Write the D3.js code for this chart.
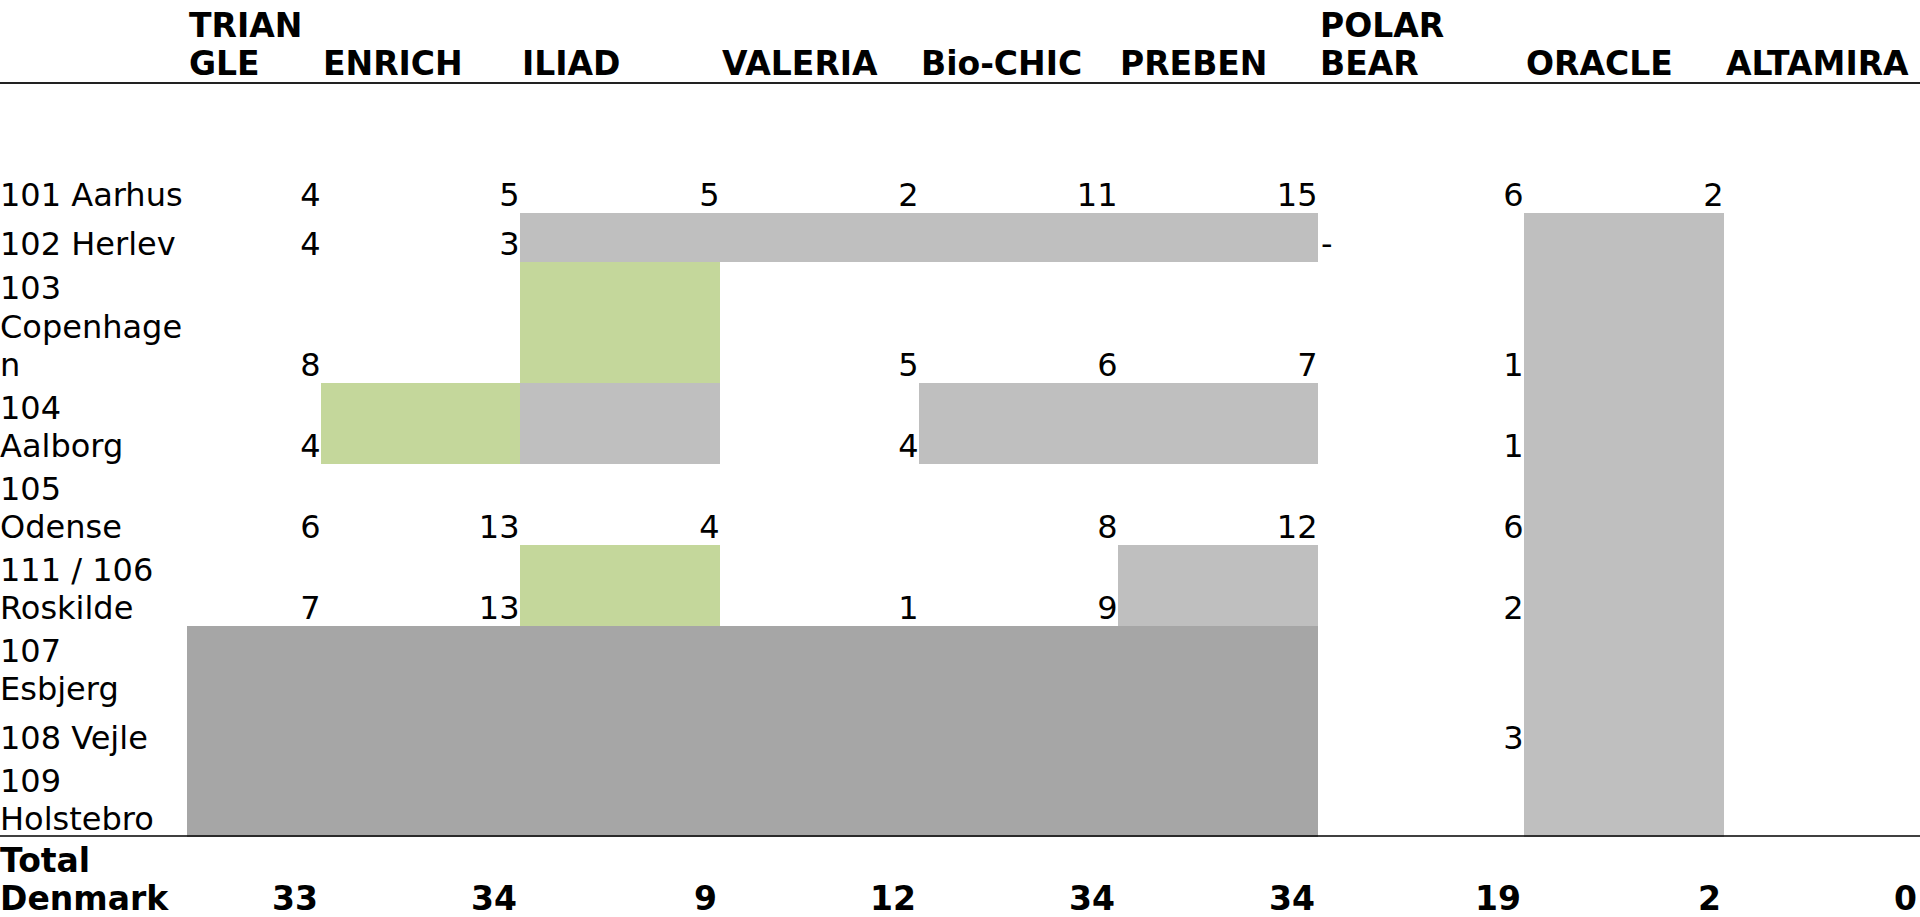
<!DOCTYPE html>
<html>
<head>
  <meta charset="utf-8">
  <script src="https://cdn.jsdelivr.net/npm/d3@7"></script>
  <style>
    body { margin: 0; background: #fff; }
    text { font-family: "DejaVu Sans", Verdana, sans-serif; font-size: 32px; fill: #000; }
    .bold { font-weight: bold; font-size: 33px; }
  </style>
</head>
<body>
<div id="table"></div>
<script>
  // columns (brands) and their header text as it wraps in the sheet
  var categories = ["TRIANGLE", "ENRICH", "ILIAD", "VALERIA", "Bio-CHIC", "PREBEN", "POLAR BEAR", "ORACLE", "ALTAMIRA"];
  var headerLines = [["TRIAN", "GLE"], ["ENRICH"], ["ILIAD"], ["VALERIA"], ["Bio-CHIC"], ["PREBEN"], ["POLAR", "BEAR"], ["ORACLE"], ["ALTAMIRA"]];

  // rows (stores)
  var regions = ["101 Aarhus", "102 Herlev", "103 Copenhagen", "104 Aalborg", "105 Odense",
                 "111 / 106 Roskilde", "107 Esbjerg", "108 Vejle", "109 Holstebro"];
  var regionLines = [["101 Aarhus"], ["102 Herlev"], ["103", "Copenhage", "n"], ["104", "Aalborg"], ["105", "Odense"],
                     ["111 / 106", "Roskilde"], ["107", "Esbjerg"], ["108 Vejle"], ["109", "Holstebro"]];

  // values per column, one per region (null = empty cell)
  var triangle  = [4, 4, 8, 4, 6, 7, null, null, null];
  var enrich    = [5, 3, null, null, 13, 13, null, null, null];
  var iliad     = [5, null, null, null, 4, null, null, null, null];
  var valeria   = [2, null, 5, 4, null, 1, null, null, null];
  var bioChic   = [11, null, 6, null, 8, 9, null, null, null];
  var preben    = [15, null, 7, null, 12, null, null, null, null];
  var polarBear = [6, "-", 1, 1, 6, 2, null, 3, null];
  var oracle    = [2, null, null, null, null, null, null, null, null];
  var altamira  = [null, null, null, null, null, null, null, null, null];
  var series = [triangle, enrich, iliad, valeria, bioChic, preben, polarBear, oracle, altamira];

  var totalLabel = ["Total", "Denmark"];
  var totals = [33, 34, 9, 12, 34, 34, 19, 2, 0];

  // shaded cell blocks: [first region, last region, first column, last column, fill]
  var shading = [
    ["102 Herlev", "102 Herlev", "ILIAD", "PREBEN", "grey"],
    ["102 Herlev", "109 Holstebro", "ORACLE", "ORACLE", "grey"],
    ["103 Copenhagen", "103 Copenhagen", "ILIAD", "ILIAD", "green"],
    ["104 Aalborg", "104 Aalborg", "ENRICH", "ENRICH", "green"],
    ["104 Aalborg", "104 Aalborg", "ILIAD", "ILIAD", "grey"],
    ["104 Aalborg", "104 Aalborg", "Bio-CHIC", "PREBEN", "grey"],
    ["111 / 106 Roskilde", "111 / 106 Roskilde", "ILIAD", "ILIAD", "green"],
    ["111 / 106 Roskilde", "111 / 106 Roskilde", "PREBEN", "PREBEN", "grey"],
    ["107 Esbjerg", "109 Holstebro", "TRIANGLE", "PREBEN", "dark"]
  ];

  // layout
  var W = 1920, H = 917;
  var labelWidth = 187;
  var colWidths = [134, 199, 200, 199, 199, 200, 206, 200, 196];
  var headerBottom = 83, firstRowTop = 164, totalTop = 836;
  var rowHeightByLines = {1: 49, 2: 81, 3: 121};
  var lineStep = 38.5, basePad = 7, cellPad = 0.5;
  var fills = {grey: "#bfbfbf", green: "#c4d79b", dark: "#a6a6a6"};

  var lefts = [], acc = labelWidth;
  colWidths.forEach(function(w) { lefts.push(acc); acc += w; });
  var x = d3.scaleOrdinal().domain(categories).range(lefts);
  var xw = d3.scaleOrdinal().domain(categories).range(colWidths);

  var tops = [], heights = [], yAcc = firstRowTop;
  regionLines.forEach(function(l) {
    var h = rowHeightByLines[l.length];
    tops.push(yAcc); heights.push(h); yAcc += h;
  });
  var y = d3.scaleOrdinal().domain(regions).range(tops);
  var yh = d3.scaleOrdinal().domain(regions).range(heights);

  var svg = d3.select("#table").append("svg")
      .attr("width", W)
      .attr("height", H);

  // fills
  svg.append("g").selectAll("rect").data(shading)
    .enter().append("rect")
      .attr("x", function(d) { return x(d[2]); })
      .attr("y", function(d) { return y(d[0]); })
      .attr("width", function(d) { return x(d[3]) + xw(d[3]) - x(d[2]); })
      .attr("height", function(d) { return y(d[1]) + yh(d[1]) - y(d[0]); })
      .attr("fill", function(d) { return fills[d[4]]; });

  // header
  var header = svg.append("g");
  categories.forEach(function(c, i) {
    var lines = headerLines[i];
    header.append("text")
        .attr("class", "bold")
        .attr("x", x(c) + 2)
        .selectAll("tspan").data(lines).enter().append("tspan")
        .attr("x", x(c) + 2)
        .attr("y", function(d, j) { return headerBottom - 8 - (lines.length - 1 - j) * lineStep; })
        .text(function(d) { return d; });
  });

  // row labels
  var labels = svg.append("g");
  regions.forEach(function(r, i) {
    var lines = regionLines[i];
    var bottom = y(r) + yh(r) - basePad;
    labels.append("text")
        .selectAll("tspan").data(lines).enter().append("tspan")
        .attr("x", 0)
        .attr("y", function(d, j) { return bottom - (lines.length - 1 - j) * lineStep; })
        .text(function(d) { return d; });
  });

  // cell values
  var cells = [];
  series.forEach(function(vals, ci) {
    vals.forEach(function(v, ri) {
      if (v !== null) cells.push({col: categories[ci], row: regions[ri], v: v});
    });
  });
  svg.append("g").selectAll("text").data(cells)
    .enter().append("text")
      .attr("x", function(d) { return typeof d.v === "number" ? x(d.col) + xw(d.col) - cellPad : x(d.col) + 3; })
      .attr("y", function(d) { return y(d.row) + yh(d.row) - basePad; })
      .attr("text-anchor", function(d) { return typeof d.v === "number" ? "end" : "start"; })
      .text(function(d) { return d.v; });

  // totals
  var tot = svg.append("g");
  tot.append("text").attr("class", "bold")
      .selectAll("tspan").data(totalLabel).enter().append("tspan")
      .attr("x", 0)
      .attr("y", function(d, j) { return H - basePad - (totalLabel.length - 1 - j) * lineStep; })
      .text(function(d) { return d; });
  tot.selectAll("text.total").data(totals)
    .enter().append("text")
      .attr("class", "total bold")
      .attr("x", function(d, i) { return x(categories[i]) + xw(categories[i]) - 3; })
      .attr("y", H - basePad)
      .attr("text-anchor", "end")
      .text(function(d) { return d; });

  // rules
  svg.append("line")
      .attr("x1", 0).attr("x2", W)
      .attr("y1", headerBottom).attr("y2", headerBottom)
      .attr("stroke", "#222").attr("stroke-width", 2);
  svg.append("line")
      .attr("x1", 0).attr("x2", W)
      .attr("y1", totalTop).attr("y2", totalTop)
      .attr("stroke", "#000").attr("stroke-width", 1.5);
</script>
</body>
</html>
